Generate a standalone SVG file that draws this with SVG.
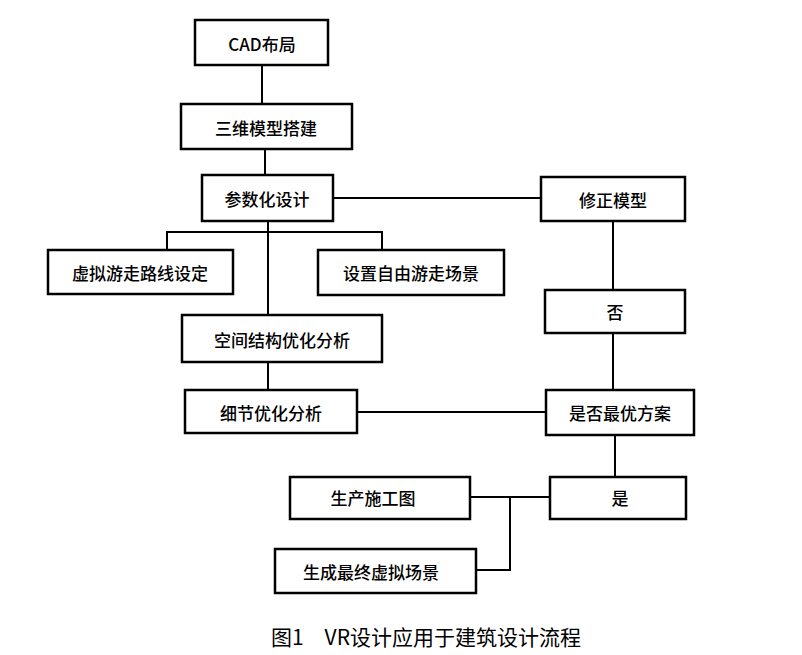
<svg xmlns="http://www.w3.org/2000/svg" width="802" height="655" viewBox="0 0 802 655">
<style>
rect{fill:#fff;stroke:#000;stroke-width:2.5}
text{font-family:"Noto Sans CJK SC","Liberation Serif",serif;font-size:17px;font-weight:500;text-anchor:middle;dominant-baseline:central;fill:#000}
.c line,.c polyline{stroke:#000;stroke-width:2;fill:none}
</style>
<rect x="0" y="0" width="802" height="655" style="stroke:none"/>
<g class="c">
<line x1="262" y1="65" x2="262" y2="104"/>
<line x1="265" y1="149" x2="265" y2="176"/>
<line x1="268" y1="221" x2="268" y2="390"/>
<polyline points="167,250 167,232 382,232 382,250"/>
<line x1="333" y1="198" x2="541" y2="198"/>
<line x1="613" y1="221" x2="613" y2="390"/>
<line x1="357" y1="412" x2="546" y2="412"/>
<line x1="615" y1="435" x2="615" y2="477"/>
<line x1="470" y1="497" x2="550" y2="497"/>
<polyline points="510,497 510,570 476,570"/>
</g>
<g id="n1"><rect x="195" y="20" width="133" height="45"/><text x="262" y="43">CAD布局</text></g>
<g id="n2"><rect x="181" y="104" width="171" height="45"/><text x="266" y="127">三维模型搭建</text></g>
<g id="n3"><rect x="202" y="175" width="131" height="46"/><text x="267" y="198">参数化设计</text></g>
<g id="n4"><rect x="541" y="177" width="144" height="44"/><text x="613" y="199">修正模型</text></g>
<g id="n5"><rect x="48" y="250" width="185" height="44"/><text x="140" y="272">虚拟游走路线设定</text></g>
<g id="n6"><rect x="318" y="250" width="186" height="45"/><text x="411" y="272">设置自由游走场景</text></g>
<g id="n7"><rect x="545" y="290" width="140" height="43"/><text x="615" y="311">否</text></g>
<g id="n8"><rect x="182" y="315" width="200" height="47"/><text x="282" y="339">空间结构优化分析</text></g>
<g id="n9"><rect x="185" y="390" width="172" height="43"/><text x="271" y="412">细节优化分析</text></g>
<g id="n10"><rect x="546" y="390" width="148" height="45"/><text x="620" y="412">是否最优方案</text></g>
<g id="n11"><rect x="290" y="477" width="180" height="42"/><text x="373" y="497">生产施工图</text></g>
<g id="n12"><rect x="550" y="477" width="136" height="42"/><text x="620" y="497">是</text></g>
<g id="n13"><rect x="275" y="549" width="201" height="44"/><text x="371" y="571">生成最终虚拟场景</text></g>
<text x="426" y="636" style="font-size:21px;font-weight:400">图1　VR设计应用于建筑设计流程</text>
</svg>
